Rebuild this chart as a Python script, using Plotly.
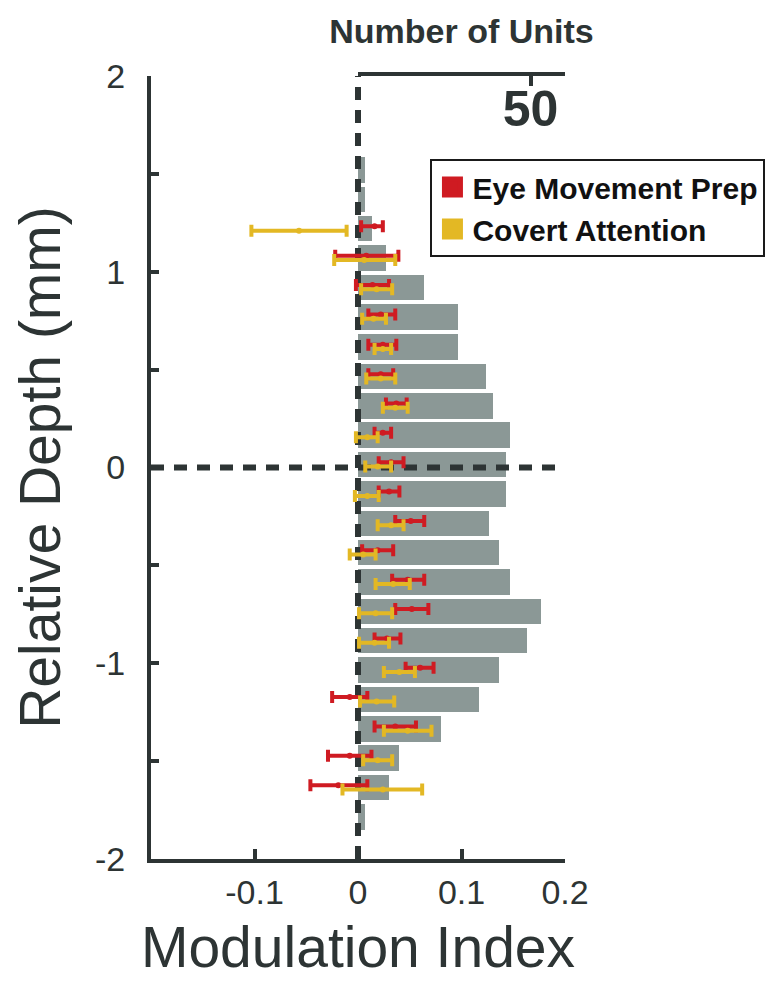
import plotly.graph_objects as go

# ---------------- data ----------------
DEPTH = [1.52, 1.37, 1.22, 1.07, 0.92, 0.77, 0.615, 0.465, 0.315, 0.165, 0.015,
         -0.135, -0.285, -0.435, -0.585, -0.735, -0.885, -1.035, -1.185, -1.335,
         -1.485, -1.635, -1.785]
UNIT_COUNTS = [2, 2, 4, 8, 19, 29, 29, 37, 39, 44, 43, 43, 38, 41, 44, 53, 49, 41,
               35, 24, 12, 9, 2]

EYE_MEAN = [None, None, 0.016, 0.008, 0.014, 0.022, 0.024, 0.022, 0.037, 0.024, 0.032,
            0.030, 0.051, 0.019, 0.048, 0.052, 0.028, 0.060, -0.008, 0.036, -0.008,
            -0.019, None]
EYE_LO = [None, None, 0.003, -0.022, -0.002, 0.010, 0.010, 0.010, 0.027, 0.016, 0.020,
          0.020, 0.036, 0.004, 0.033, 0.036, 0.016, 0.046, -0.025, 0.016, -0.029,
          -0.046, None]
EYE_HI = [None, None, 0.024, 0.039, 0.030, 0.036, 0.037, 0.034, 0.047, 0.032, 0.044,
          0.040, 0.064, 0.034, 0.064, 0.068, 0.041, 0.073, 0.009, 0.056, 0.013,
          0.009, None]

COV_MEAN = [None, None, -0.057, 0.006, 0.018, 0.015, 0.024, 0.022, 0.036, 0.009, 0.019,
            0.009, 0.032, 0.005, 0.034, 0.017, 0.016, 0.040, 0.018, 0.048, 0.019,
            0.024, None]
COV_LO = [None, None, -0.103, -0.023, 0.003, 0.004, 0.016, 0.008, 0.024, -0.002, 0.007,
          -0.003, 0.019, -0.008, 0.017, 0.001, 0.001, 0.025, 0.002, 0.025, 0.005,
          -0.015, None]
COV_HI = [None, None, -0.011, 0.036, 0.033, 0.027, 0.032, 0.036, 0.048, 0.019, 0.032,
          0.020, 0.044, 0.017, 0.050, 0.033, 0.030, 0.055, 0.035, 0.071, 0.033,
          0.062, None]

SERIES_NAMES = ["Eye Movement Prep", "Covert Attention"]
X_RANGE = [-0.2, 0.2]
Y_RANGE = [-2, 2]
COUNT_RANGE = [0, 60]
X_TICKS = [-0.2, -0.1, 0, 0.1, 0.2]
X_TICKTEXT = ["", "-0.1", "0", "0.1", "0.2"]
Y_TICKS = [-2, -1.5, -1, -0.5, 0, 0.5, 1, 1.5, 2]
Y_TICKTEXT = ["-2", "", "-1", "", "0", "", "1", "", "2"]
COUNT_TICKS = [50]

# ---------------- styles ----------------
RED = "#cf1b22"
YELLOW = "#e3b824"
GREY = "#8b9896"
DARK = "#2d3434"
FONT = "Liberation Sans, Arial, Helvetica, sans-serif"


def rows(mean, lo, hi, offset):
    ys, xs, plus, minus = [], [], [], []
    for d, m, l, h in zip(DEPTH, mean, lo, hi):
        if m is None:
            continue
        ys.append(d + offset)
        xs.append(m)
        plus.append(h - m)
        minus.append(m - l)
    return xs, ys, plus, minus


fig = go.Figure()

# histogram of units (counts axis on top)
fig.add_trace(go.Bar(
    x=UNIT_COUNTS, y=DEPTH, orientation="h", width=0.13,
    marker=dict(color=GREY, line=dict(width=0)),
    xaxis="x", yaxis="y", showlegend=False, hoverinfo="skip"))

# dashed reference lines at 0
fig.add_trace(go.Scatter(
    x=[0, 0], y=Y_RANGE, mode="lines", xaxis="x2", yaxis="y",
    line=dict(color=DARK, width=6, dash="13px,10px"), showlegend=False, hoverinfo="skip"))
fig.add_trace(go.Scatter(
    x=X_RANGE, y=[0, 0], mode="lines", xaxis="x2", yaxis="y",
    line=dict(color=DARK, width=6, dash="13px,10px"), showlegend=False, hoverinfo="skip"))

for (mean, lo, hi, color, off) in [
        (EYE_MEAN, EYE_LO, EYE_HI, RED, 0.012),
        (COV_MEAN, COV_LO, COV_HI, YELLOW, -0.01)]:
    xs, ys, plus, minus = rows(mean, lo, hi, off)
    fig.add_trace(go.Scatter(
        x=xs, y=ys, mode="markers", xaxis="x2", yaxis="y",
        marker=dict(color=color, size=6),
        error_x=dict(type="data", symmetric=False, array=plus, arrayminus=minus,
                     color=color, thickness=4, width=6),
        showlegend=False))

# legend entries
for name, color in zip(SERIES_NAMES, [RED, YELLOW]):
    fig.add_trace(go.Scatter(
        x=[None], y=[None], mode="markers", name=name, xaxis="x2", yaxis="y",
        marker=dict(symbol="square", size=16, color=color,
                    line=dict(color=color, width=5))))

fig.update_layout(
    width=782, height=986,
    margin=dict(l=143, r=225, t=68, b=135),
    paper_bgcolor="white", plot_bgcolor="rgba(0,0,0,0)",
    font=dict(family=FONT, color=DARK),
    bargap=0,
    xaxis=dict(
        domain=[0.5, 1], range=COUNT_RANGE, side="top", anchor="y", automargin=False,
        showgrid=False, zeroline=False, showline=True, linewidth=4, linecolor=DARK,
        tickvals=COUNT_TICKS, ticks="inside", ticklen=10, tickwidth=4, tickcolor=DARK,
        ticklabelstandoff=-74,
        tickfont=dict(size=50, family=FONT, color=DARK, weight="bold"),
        title=dict(text="Number of Units", standoff=28,
                   font=dict(size=34, family=FONT, color=DARK, weight="bold"))),
    xaxis2=dict(
        domain=[0, 1], range=X_RANGE, side="bottom", anchor="y", automargin=False,
        showgrid=False, zeroline=False, showline=True, linewidth=4, linecolor=DARK,
        tickvals=X_TICKS, ticktext=X_TICKTEXT, ticks="inside", ticklen=10, tickwidth=4,
        tickcolor=DARK, ticklabelstandoff=0,
        tickfont=dict(size=34, family=FONT, color=DARK),
        title=dict(text="Modulation Index", standoff=18,
                   font=dict(size=57, family=FONT, color=DARK))),
    yaxis=dict(
        range=Y_RANGE, anchor="x2", automargin=False,
        showgrid=False, zeroline=False, showline=True, linewidth=4, linecolor=DARK,
        tickvals=Y_TICKS, ticktext=Y_TICKTEXT, ticks="inside", ticklen=8, tickwidth=4,
        tickcolor=DARK, ticklabelstandoff=15,
        tickfont=dict(size=34, family=FONT, color=DARK),
        title=dict(text="Relative Depth (mm)", standoff=38,
                   font=dict(size=57, family=FONT, color=DARK))),
    legend=dict(
        x=0.675, y=0.894, xanchor="left", yanchor="top", xref="paper", yref="paper",
        bgcolor="white", bordercolor="#1a1a1a", borderwidth=2,
        font=dict(size=30, family=FONT, color="#111111", weight="bold"),
        itemsizing="trace", tracegroupgap=0),
)

fig.write_html("out.html")
